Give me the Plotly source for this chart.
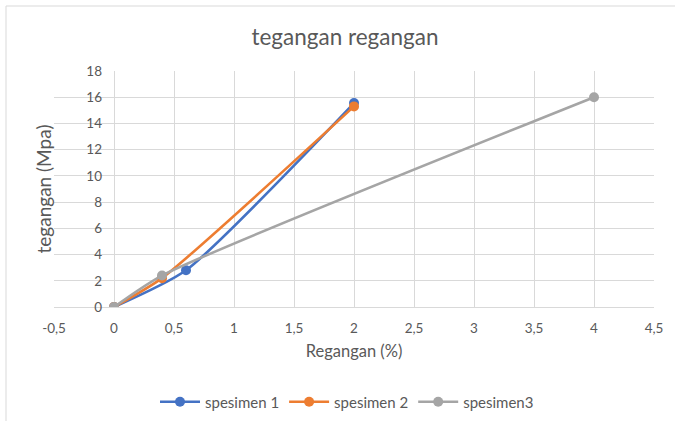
import plotly.graph_objects as go

# Data
s1_x = [0, 0.6, 2]
s1_y = [0, 2.8, 15.55]
s2_x = [0, 0.4, 2]
s2_y = [0, 2.2, 15.3]
s3_x = [0, 0.4, 4]
s3_y = [0, 2.4, 16.0]
names = ["spesimen 1", "spesimen 2", "spesimen3"]
colors = ["#4472C4", "#ED7D31", "#A5A5A5"]

x_tickvals = [-0.5, 0, 0.5, 1, 1.5, 2, 2.5, 3, 3.5, 4, 4.5]
x_ticktext = ["-0,5", "0", "0,5", "1", "1,5", "2", "2,5", "3", "3,5", "4", "4,5"]
y_tickvals = [0, 2, 4, 6, 8, 10, 12, 14, 16, 18]

x_range = [-0.5, 4.5]
y_range = [0, 18]

W, H = 675, 421
ml, mr, mt, mb = 54, 21, 71, 114
pw, ph = W - ml - mr, H - mt - mb

fig = go.Figure()
for xs, ys, n, c in zip([s1_x, s2_x, s3_x], [s1_y, s2_y, s3_y], names, colors):
    fig.add_trace(go.Scatter(
        x=xs, y=ys, name=n, mode="lines+markers",
        line=dict(color=c, width=2.6, shape="spline", smoothing=0.6),
        marker=dict(color=c, size=10),
    ))

# y axis crosses at x = 0
ypos = (0 - x_range[0]) / (x_range[1] - x_range[0])

font_fam = "Lato, 'Open Sans', sans-serif"
fig.update_layout(
    width=W, height=H,
    margin=dict(l=ml, r=mr, t=mt, b=mb, autoexpand=False),
    paper_bgcolor="white", plot_bgcolor="white",
    font=dict(family=font_fam, color="#595959", size=13),
    title=dict(text="tegangan regangan", x=(345 - ml) / pw, xref="paper", xanchor="center",
               y=1 - 37 / H, yanchor="middle",
               font=dict(size=22.5, color="#595959")),
    xaxis=dict(range=x_range, tickvals=x_tickvals, ticktext=x_ticktext,
               showgrid=True, gridcolor="#D9D9D9", gridwidth=1,
               zeroline=False, showline=True, linecolor="#D9D9D9", mirror=False,
               automargin=False, ticklabelstandoff=9,
               title=dict(text="Regangan (%)", font=dict(size=16.5, color="#595959"), standoff=10),
               ticks="", ticklen=0, tickfont=dict(size=13.5, color="#595959")),
    yaxis=dict(range=y_range, tickvals=y_tickvals,
               showgrid=True, gridcolor="#D9D9D9", gridwidth=1,
               zeroline=False, showline=False, anchor="free", position=ypos,
               automargin=False, ticklabelstandoff=12,
               title=dict(text="tegangan (Mpa)", font=dict(size=19, color="#595959"), standoff=28),
               ticks="", tickfont=dict(size=13.5, color="#595959")),
    legend=dict(orientation="h", x=(347 - ml) / pw, xanchor="center",
                y=-(402 - (H - mb)) / ph, yanchor="middle",
                font=dict(size=15, color="#595959"), itemwidth=40),
    showlegend=True,
    shapes=[dict(type="rect", xref="paper", yref="paper",
                 x0=(6 - ml) / pw, x1=(W + 5 - ml) / pw,
                 y0=-(mb + 5) / ph, y1=1 + (mt - 6) / ph,
                 line=dict(color="#D9D9D9", width=1), fillcolor="rgba(0,0,0,0)", layer="below")],
)

fig.write_html("out.html", config={"displayModeBar": False},
               post_script="document.body.style.margin='0';document.body.style.overflow='hidden';")
